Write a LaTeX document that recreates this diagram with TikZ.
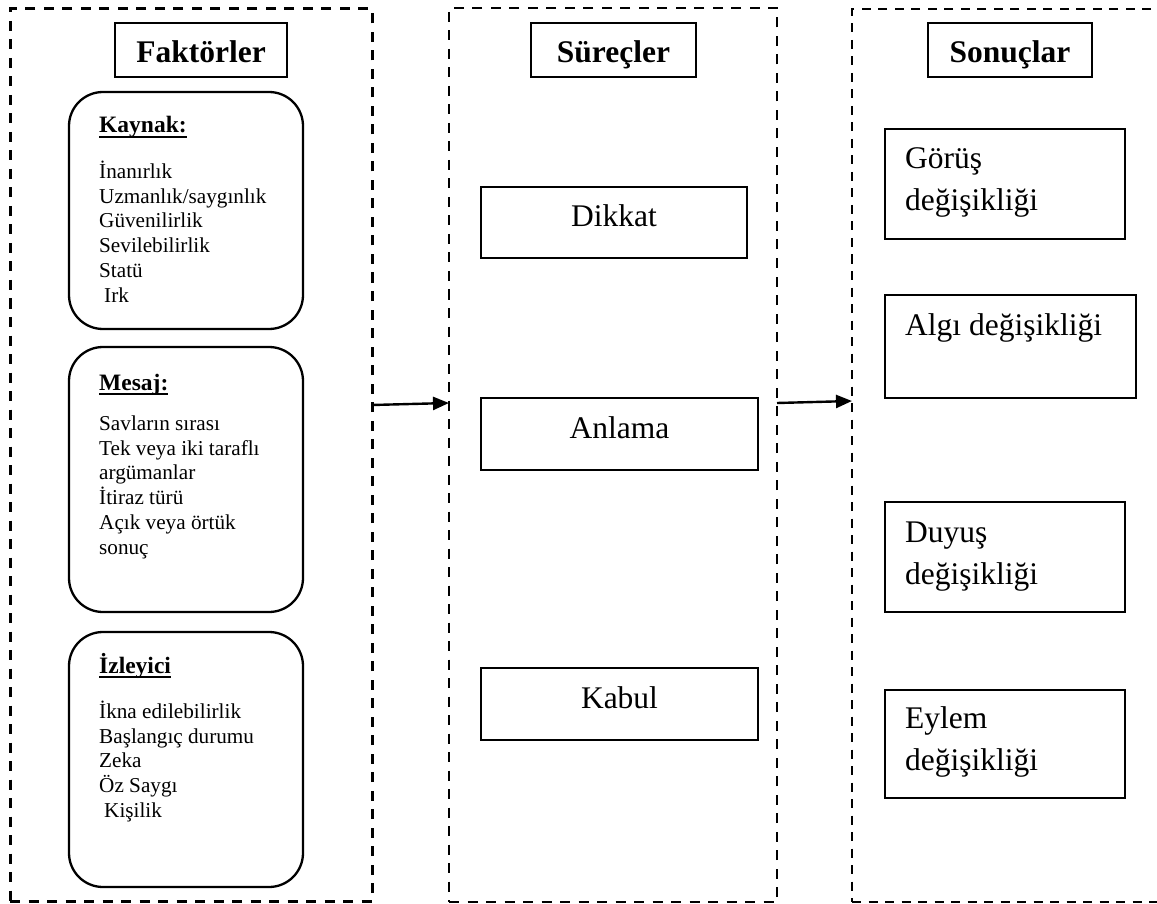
\documentclass[tikz,border=0pt]{standalone}
\usepackage{fontspec}
\setmainfont{Liberation Serif}
\usetikzlibrary{arrows.meta}
% bold heading with a thick underline
\newcommand\hdul[1]{\setbox0\hbox{#1}\rlap{\rule[-4.8pt]{\wd0}{2.2pt}}\box0}
\begin{document}
\begin{tikzpicture}[x=1pt,y=-1pt,
  colbox/.style={draw, line width=3pt, dash pattern=on 10pt off 8.5pt, inner sep=0pt, outer sep=0pt},
  titlebox/.style={draw, line width=2pt, font=\fontsize{31.5}{38}\selectfont\bfseries,
                   text height=26pt, text depth=0pt, inner sep=0pt},
  procbox/.style={draw, line width=2pt, font=\fontsize{31.5}{38}\selectfont,
                  text height=22pt, text depth=13pt, inner sep=0pt},
  factbox/.style={draw, line width=2.3pt, rounded corners=34pt, minimum width=234pt, inner sep=0pt},
  resbox/.style={draw, line width=2pt, inner sep=0pt},
  head/.style={font=\fontsize{23.5}{28}\selectfont\bfseries, anchor=base west, inner sep=0pt},
  body/.style={font=\fontsize{21.2}{24.8}\selectfont, align=left, anchor=north west, inner sep=0pt},
  restxt/.style={font=\fontsize{31.5}{42}\selectfont, align=left, anchor=north west, inner sep=0pt},
  arr/.style={line width=2.4pt, -{Triangle[length=16pt,width=13pt]}}
]
\clip (0,0) rectangle (1157,904);
\fill[white] (0,0) rectangle (1157,904);

% the three columns
\node[colbox, minimum width=362pt, minimum height=892pt] (colA) at (191,455) {};
\node[colbox, line width=2.8pt, minimum width=328pt, minimum height=894pt] (colB) at (613,455) {};
\node[colbox, line width=2.6pt, dash pattern=on 9pt off 7.5pt, minimum width=330pt, minimum height=893pt] (colC) at (1017,455.5) {};

% column titles
\node[titlebox, minimum width=172pt, minimum height=54pt] (tA) at (201,50) {Faktörler};
\node[titlebox, minimum width=165pt, minimum height=54pt] (tB) at (613.5,50) {Süreçler};
\node[titlebox, minimum width=164pt, minimum height=54pt] (tC) at (1010,50) {Sonuçlar};

% factors
\node[factbox, minimum height=237pt] (kaynak) at (186,210.5) {};
\node[head] (kaynakH) at (99,133) {\hdul{Kaynak:}};
\node[body] (kaynakB) at (99,158) {\rule{0pt}{20pt}İnanırlık\\Uzmanlık/saygınlık\\Güvenilirlik\\Sevilebilirlik\\Statü\\\hspace{5pt}Irk};

\node[factbox, minimum height=265pt] (mesaj) at (186,479.5) {};
\node[head] (mesajH) at (99,390) {\hdul{Mesaj:}};
\node[body] (mesajB) at (99,410) {\rule{0pt}{20pt}Savların sırası\\Tek veya iki taraflı\\argümanlar\\İtiraz türü\\Açık veya örtük\\sonuç};

\node[factbox, minimum height=255pt] (izleyici) at (186,759.5) {};
\node[head] (izleyiciH) at (99,673) {\hdul{İzleyici}};
\node[body] (izleyiciB) at (99,698) {\rule{0pt}{20pt}İkna edilebilirlik\\Başlangıç durumu\\Zeka\\Öz Saygı\\\hspace{5pt}Kişilik};

% processes
\node[procbox, minimum width=266pt, minimum height=71pt] (dikkat) at (614,222.5) {Dikkat};
\node[procbox, minimum width=277pt, minimum height=72pt] (anlama) at (619.5,434) {Anlama};
\node[procbox, minimum width=277pt, minimum height=72pt] (kabul) at (619.5,704) {Kabul};

% outcomes
\node[resbox, minimum width=240pt, minimum height=110pt] (gorus) at (1005,184) {};
\node[restxt] (gorusT) at (905,138) {\rule{0pt}{30pt}Görüş\\değişikliği};
\node[resbox, minimum width=251pt, minimum height=103pt] (algi) at (1010.5,346.5) {};
\node[restxt] (algiT) at (905,305) {\rule{0pt}{30pt}Algı değişikliği};
\node[resbox, minimum width=240pt, minimum height=110pt] (duyus) at (1005,557) {};
\node[restxt] (duyusT) at (905,512) {\rule{0pt}{30pt}Duyuş\\değişikliği};
\node[resbox, minimum width=240pt, minimum height=108pt] (eylem) at (1005,744) {};
\node[restxt] (eylemT) at (905,698) {\rule{0pt}{30pt}Eylem\\değişikliği};

% flow between the columns
\draw[arr] ([yshift=50pt]colA.east) -- ([yshift=52pt]colB.west);
\draw[arr] ([yshift=52pt]colB.east) -- ([yshift=54.5pt]colC.west);
\end{tikzpicture}
\end{document}
